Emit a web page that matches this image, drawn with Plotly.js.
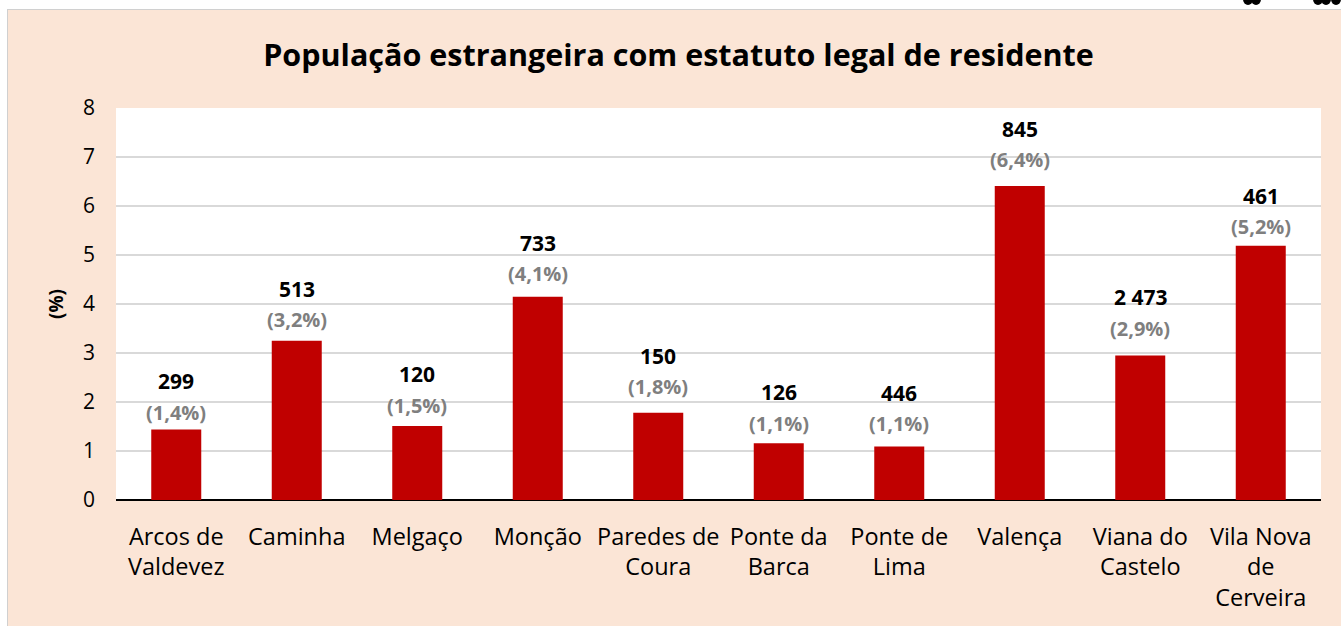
<!DOCTYPE html>
<html>
<head>
<meta charset="utf-8">
<script src="https://cdn.plot.ly/plotly-3.0.1.min.js"></script>
<style>
  html, body { margin: 0; padding: 0; background: #ffffff; width: 1341px; height: 626px; overflow: hidden; position: relative; }
  #frame { position: absolute; left: 7px; top: 9px; width: 1334px; height: 617px; border-left: 1px solid #d0d0d0; border-top: 1px solid #d0d0d0; box-sizing: border-box; }
  #chart { position: absolute; left: 8px; top: 10px; width: 1333px; height: 616px; }
  .blob { position: absolute; top: -7px; width: 10px; height: 12px; border-radius: 50%; background: #000; }
</style>
</head>
<body>
<div class="blob" style="left:1243px"></div>
<div class="blob" style="left:1251px"></div>
<div class="blob" style="left:1313px"></div>
<div class="blob" style="left:1321px"></div>
<div class="blob" style="left:1331px"></div>
<div id="frame"></div>
<div id="chart"></div>
<script>
const categories = ["Arcos de Valdevez", "Caminha", "Melgaço", "Monção", "Paredes de Coura",
                    "Ponte da Barca", "Ponte de Lima", "Valença", "Viana do Castelo", "Vila Nova de Cerveira"];
const tickLabels = ["Arcos de<br>Valdevez", "Caminha", "Melgaço", "Monção", "Paredes de<br>Coura",
                    "Ponte da<br>Barca", "Ponte de<br>Lima", "Valença", "Viana do<br>Castelo", "Vila Nova<br>de<br>Cerveira"];
const percentValues = [1.44, 3.25, 1.51, 4.15, 1.78, 1.16, 1.09, 6.41, 2.95, 5.19];
const countLabels = ["299", "513", "120", "733", "150", "126", "446", "845", "2 473", "461"];
const percentLabels = ["(1,4%)", "(3,2%)", "(1,5%)", "(4,1%)", "(1,8%)", "(1,1%)", "(1,1%)", "(6,4%)", "(2,9%)", "(5,2%)"];
const yTicks = [0, 1, 2, 3, 4, 5, 6, 7, 8];

// label placement (pixels above bar top), as manually positioned in the original
const pctLabelShift = [17, 21, 21, 23, 26, 20, 23, 26, 27, 19];
const LINE_GAP = 31;

const FONT = "'Open Sans', 'DejaVu Sans', sans-serif";

const annotations = [];
categories.forEach((c, i) => {
  annotations.push({
    x: c, y: percentValues[i], xref: 'x', yref: 'y',
    text: '<b>' + countLabels[i] + '</b>', showarrow: false,
    yanchor: 'middle', yshift: pctLabelShift[i] + LINE_GAP,
    font: {family: FONT, size: 21, color: '#000000'}
  });
  annotations.push({
    x: c, y: percentValues[i], xref: 'x', yref: 'y',
    text: '<b>' + percentLabels[i] + '</b>', showarrow: false,
    yanchor: 'middle', yshift: pctLabelShift[i],
    font: {family: FONT, size: 20, color: '#7f7f7f'}
  });
});

const trace = {
  type: 'bar',
  x: categories,
  y: percentValues,
  marker: {color: '#c00000'},
  hoverinfo: 'none'
};

const layout = {
  width: 1333, height: 616,
  paper_bgcolor: '#fbe5d6',
  plot_bgcolor: '#ffffff',
  margin: {l: 108, r: 20, t: 98, b: 126},
  font: {family: FONT, color: '#000000'},
  title: {
    text: '<b>População estrangeira com estatuto legal de residente</b>',
    font: {family: FONT, size: 30.5, color: '#000000'},
    x: 0.503, xref: 'container', xanchor: 'center',
    y: 0.927, yref: 'container', yanchor: 'middle'
  },
  bargap: 0.585,
  showlegend: false,
  xaxis: {
    type: 'category',
    tickmode: 'array', tickvals: categories, ticktext: tickLabels,
    tickfont: {family: FONT, size: 23.5, color: '#000000'},
    showgrid: false, zeroline: false,
    showline: false, ticks: '', ticklabelstandoff: 20,
    fixedrange: true
  },
  yaxis: {
    range: [0, 8],
    tickmode: 'array', tickvals: yTicks, ticktext: yTicks.map(String),
    tickfont: {family: FONT, size: 21, color: '#000000'},
    showgrid: true, gridcolor: '#d9d9d9', gridwidth: 1.5,
    zeroline: true, zerolinecolor: '#000000', zerolinewidth: 1.5,
    showline: false, ticks: '', ticklabelstandoff: 20,
    title: {text: '<b>(%)</b>', font: {family: FONT, size: 19, color: '#000000'}, standoff: 14},
    fixedrange: true
  },
  annotations: annotations
};

Plotly.newPlot('chart', [trace], layout, {displayModeBar: false, staticPlot: true});
</script>
</body>
</html>
